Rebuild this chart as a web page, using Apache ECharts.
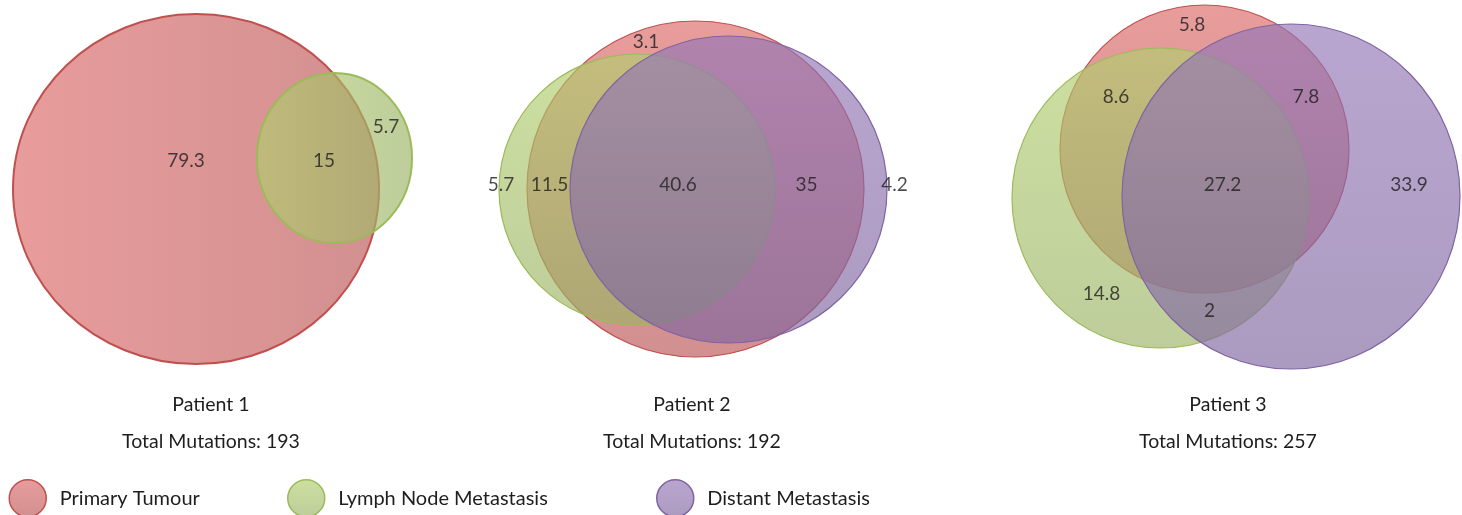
<!DOCTYPE html>
<html><head><meta charset="utf-8">
<script src="https://cdn.jsdelivr.net/npm/echarts@6/dist/echarts.min.js"></script>
<style>html,body{margin:0;padding:0;background:#fff;overflow:hidden}#c{width:1462px;height:515px}</style>
</head><body><div id="c"></div>
<script>
// ---------- data ----------
const patients = ['Patient 1', 'Patient 2', 'Patient 3'];
const totalMutations = [193, 192, 257];
const sets = ['Primary Tumour', 'Lymph Node Metastasis', 'Distant Metastasis'];

// region values (% of total mutations)
const p1Regions = ['Primary only', 'Primary ∩ Lymph Node', 'Lymph Node only'];
const p1Values = [79.3, 15, 5.7];
const p2Regions = ['Primary only', 'Lymph Node only', 'Primary ∩ Lymph Node', 'All three', 'Primary ∩ Distant', 'Distant only'];
const p2Values = [3.1, 5.7, 11.5, 40.6, 35, 4.2];
const p3Regions = ['Primary only', 'Primary ∩ Lymph Node', 'Primary ∩ Distant', 'All three', 'Distant only', 'Lymph Node only', 'Lymph Node ∩ Distant'];
const p3Values = [5.8, 8.6, 7.8, 27.2, 33.9, 14.8, 2];

// ---------- layout (chart units) ----------
// circles: [centreX, centreY, radiusX, radiusY] for each patient
const primaryCircles = [[196, 189, 183, 175], [695.5, 189, 168.5, 168], [1204.5, 149, 144.5, 144]];
const lymphCircles   = [[334.5, 158, 77.5, 85], [637, 189.5, 138, 135.5], [1160.5, 198, 148.5, 150]];
const distantCircles = [null, [728.5, 189.5, 158.5, 153.5], [1291, 196.5, 169, 172.5]];
const p1LabelPos = [[186, 161], [324, 161], [386, 127]];
const p2LabelPos = [[646, 42], [501, 185], [549.5, 185], [678, 185], [806.5, 185], [894.5, 185]];
const p3LabelPos = [[1192, 25], [1116, 97], [1306, 97], [1222.5, 185], [1409, 185], [1101.5, 294], [1209.5, 311]];
const titleCentreX = [211, 692, 1228];
const gradientHorizontal = [true, false, false];
const strokeWidths = [2, 1.2, 1.2];

// ---------- styles ----------
const FONT = 'Lato';
const TEXT = '#1e1e1e';
const fills = [
  ['rgba(220,103,103,0.65)', 'rgba(186,84,84,0.65)'],
  ['rgba(177,207,109,0.65)', 'rgba(155,178,101,0.65)'],
  ['rgba(147,118,183,0.65)', 'rgba(127,101,158,0.65)']
];
const strokes = ['#c0504d', '#9bbb59', '#8064a2'];

function grad(setIdx, horizontal) {
  return new echarts.graphic.LinearGradient(0, 0, horizontal ? 1 : 0, horizontal ? 0 : 1, [
    { offset: 0, color: fills[setIdx][0] },
    { offset: 1, color: fills[setIdx][1] }
  ]);
}

const circleSets = [primaryCircles, lymphCircles, distantCircles];

const series = circleSets.map((circles, si) => ({
  type: 'custom',
  name: sets[si],
  coordinateSystem: 'cartesian2d',
  silent: true,
  itemStyle: { color: fills[si][0], borderColor: strokes[si] },
  data: circles.map((c, pi) => c ? [c[0], c[1], c[2], c[3], pi] : null).filter(d => d),
  renderItem: function (params, api) {
    const p = api.coord([api.value(0), api.value(1)]);
    const s = api.size([api.value(2), api.value(3)]);
    const pi = api.value(4);
    return {
      type: 'ellipse',
      shape: { cx: p[0], cy: p[1], rx: Math.abs(s[0]), ry: Math.abs(s[1]) },
      style: { fill: grad(si, gradientHorizontal[pi]), stroke: strokes[si], lineWidth: strokeWidths[pi] }
    };
  }
}));

const labelData = [];
[[p1Values, p1LabelPos, p1Regions], [p2Values, p2LabelPos, p2Regions], [p3Values, p3LabelPos, p3Regions]].forEach(([vals, pos, names]) => {
  vals.forEach((v, i) => labelData.push({ name: names[i], value: [pos[i][0], pos[i][1], v] }));
});

series.push({
  type: 'scatter',
  name: 'values',
  silent: true,
  symbolSize: 0,
  z: 10,
  data: labelData,
  label: {
    show: true, position: 'inside',
    formatter: p => String(p.value[2]),
    fontFamily: FONT, fontSize: 19, color: TEXT
  }
});

const graphics = [];
patients.forEach((p, i) => {
  graphics.push({ type: 'text', x: titleCentreX[i], y: 405, style: { text: p, font: '19.5px ' + FONT, fill: TEXT, textAlign: 'center', textVerticalAlign: 'middle' } });
  graphics.push({ type: 'text', x: titleCentreX[i], y: 442, style: { text: 'Total Mutations: ' + totalMutations[i], font: '19.5px ' + FONT, fill: TEXT, textAlign: 'center', textVerticalAlign: 'middle' } });
});

const legendCentres = [27.5, 306, 675];
const legends = sets.map((s, i) => ({
  data: [{ name: s, itemStyle: { color: grad(i, false), borderColor: strokes[i], borderWidth: 1.5 } }],
  icon: 'circle',
  selectedMode: false,
  orient: 'horizontal',
  left: legendCentres[i] - 19,
  top: 479,
  padding: 0,
  itemWidth: 54,
  itemHeight: 37,
  textStyle: { fontFamily: FONT, fontSize: 20, color: TEXT }
}));

const chart = echarts.init(document.getElementById('c'), null, { renderer: 'canvas' });
chart.setOption({
  animation: false,
  backgroundColor: '#ffffff',
  grid: { left: 0, right: 0, top: 0, bottom: 0 },
  xAxis: { type: 'value', min: 0, max: 1462, show: false },
  yAxis: { type: 'value', min: 0, max: 515, inverse: true, show: false },
  legend: legends,
  graphic: graphics,
  series: series
});
</script>
</body></html>
